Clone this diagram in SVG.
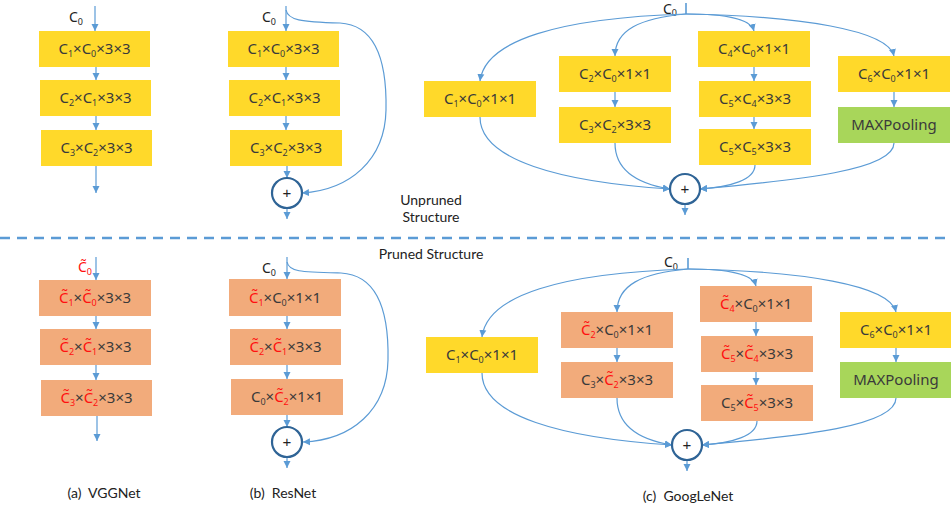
<svg xmlns="http://www.w3.org/2000/svg" width="951" height="508" viewBox="0 0 951 508">
  <style>
    .y { fill: #FFD92A; }
    .o { fill: #F2AB7B; }
    .g { fill: #A8D65A; }
    .t { font-family: "Noto Sans", "Noto Sans CJK SC", sans-serif; font-size: 15px; fill: #3a3a3a; text-anchor: middle; }
    .lbl { font-family: "Noto Sans", "Noto Sans CJK SC", sans-serif; font-size: 14px; fill: #222; }
    .cap { font-family: Lato, "Liberation Sans", sans-serif; font-size: 14px; fill: #222; text-anchor: middle; }
    .r { fill: #FF1010; }
    .ln { fill: none; stroke: #5B9BD5; stroke-width: 1.2; }
    .sum { fill: #fff; stroke: #2F6496; stroke-width: 2.2; }
    .plus { font-family: "Liberation Sans", sans-serif; font-size: 15px; fill: #222; text-anchor: middle; }
  </style>
  <defs>
    <marker id="ah" markerUnits="userSpaceOnUse" markerWidth="8" markerHeight="8" refX="7" refY="4" orient="auto">
      <path d="M0,0.5 L7,4 L0,7.5 Z" fill="#5B9BD5"/>
    </marker>
  </defs>

  <!-- section divider -->
  <line x1="0" y1="238" x2="951" y2="238" stroke="#5B9BD5" stroke-width="2.5" stroke-dasharray="10,7"/>
  <text class="cap" x="431" y="205">Unpruned</text>
  <text class="cap" x="431" y="222">Structure</text>
  <text class="cap" x="431" y="259">Pruned Structure</text>

  <!-- captions -->
  <text class="cap" x="104" y="498" xml:space="preserve">(a)  VGGNet</text>
  <text class="cap" x="283" y="498" xml:space="preserve">(b)  ResNet</text>
  <text class="cap" x="688" y="501" xml:space="preserve">(c)  GoogLeNet</text>

  <!-- input labels -->
  <text class="lbl" x="69" y="22">C<tspan font-size="9" dy="3">0</tspan></text>
  <text class="lbl" x="262" y="22">C<tspan font-size="9" dy="3">0</tspan></text>
  <text class="lbl" x="663" y="14" font-size="13">C<tspan font-size="9" dy="2">0</tspan></text>
  <text class="lbl r" x="78" y="272">C&#x303;<tspan font-size="9" dy="3">0</tspan></text>
  <text class="lbl" x="262" y="273">C<tspan font-size="9" dy="3">0</tspan></text>
  <text class="lbl" x="664" y="267">C<tspan font-size="9" dy="3">0</tspan></text>

  <!-- connectors -->
  <g id="connectors">
    <!-- VGG top -->
    <line class="ln" x1="95" y1="6" x2="95" y2="31" marker-end="url(#ah)"/>
    <line class="ln" x1="96" y1="66" x2="96" y2="80" marker-end="url(#ah)"/>
    <line class="ln" x1="96" y1="116" x2="96" y2="130" marker-end="url(#ah)"/>
    <line class="ln" x1="96" y1="166" x2="96" y2="193" marker-end="url(#ah)"/>
    <!-- ResNet top -->
    <line class="ln" x1="286" y1="6" x2="286" y2="31" marker-end="url(#ah)"/>
    <line class="ln" x1="286" y1="67" x2="286" y2="80" marker-end="url(#ah)"/>
    <line class="ln" x1="286" y1="116" x2="286" y2="130" marker-end="url(#ah)"/>
    <line class="ln" x1="287" y1="166" x2="287" y2="178" marker-end="url(#ah)"/>
    <line class="ln" x1="287" y1="208" x2="287" y2="219" marker-end="url(#ah)"/>
    <path class="ln" d="M286,10 C288,20 300,22 340,23 C375,25 387,60 386,110 C385,160 350,190 302,193" marker-end="url(#ah)"/>
    <!-- GoogLeNet top -->
    <line x1="686" y1="3" x2="686" y2="14" stroke="#5B9BD5" stroke-width="1.6"/>
    <path class="ln" d="M686,14 C560,18 485,40 480,81" marker-end="url(#ah)"/>
    <path class="ln" d="M686,14 C640,18 615,30 615,56" marker-end="url(#ah)"/>
    <path class="ln" d="M686,14 C720,14 750,17 754,31" marker-end="url(#ah)"/>
    <path class="ln" d="M686,14 C800,16 888,30 894,56" marker-end="url(#ah)"/>
    <line class="ln" x1="615" y1="92" x2="615" y2="107" marker-end="url(#ah)"/>
    <line class="ln" x1="754" y1="67" x2="754" y2="81" marker-end="url(#ah)"/>
    <line class="ln" x1="754" y1="117" x2="754" y2="129" marker-end="url(#ah)"/>
    <line class="ln" x1="894" y1="92" x2="894" y2="107" marker-end="url(#ah)"/>
    <path class="ln" d="M480,117 C480,160 560,182 670,189" marker-end="url(#ah)"/>
    <path class="ln" d="M615,143 C615,175 645,185 670,189" marker-end="url(#ah)"/>
    <path class="ln" d="M755,165 C755,180 730,187 700,189" marker-end="url(#ah)"/>
    <path class="ln" d="M894,143 C894,170 800,180 700,189" marker-end="url(#ah)"/>
    <line class="ln" x1="685" y1="204" x2="685" y2="215" marker-end="url(#ah)"/>

    <!-- VGG bottom -->
    <line class="ln" x1="96" y1="257" x2="96" y2="280" marker-end="url(#ah)"/>
    <line class="ln" x1="96" y1="316" x2="96" y2="329" marker-end="url(#ah)"/>
    <line class="ln" x1="96" y1="365" x2="96" y2="380" marker-end="url(#ah)"/>
    <line class="ln" x1="97" y1="416" x2="97" y2="441" marker-end="url(#ah)"/>
    <!-- ResNet bottom -->
    <line class="ln" x1="287" y1="257" x2="287" y2="279" marker-end="url(#ah)"/>
    <line class="ln" x1="287" y1="316" x2="287" y2="329" marker-end="url(#ah)"/>
    <line class="ln" x1="287" y1="365" x2="287" y2="379" marker-end="url(#ah)"/>
    <line class="ln" x1="287" y1="415" x2="287" y2="427" marker-end="url(#ah)"/>
    <line class="ln" x1="287" y1="457" x2="287" y2="468" marker-end="url(#ah)"/>
    <path class="ln" d="M287,262 C289,272 301,272 341,273 C377,275 389,310 388,360 C387,410 352,440 303,442" marker-end="url(#ah)"/>
    <!-- GoogLeNet bottom -->
    <line x1="688" y1="258" x2="688" y2="269" stroke="#5B9BD5" stroke-width="1.6"/>
    <path class="ln" d="M688,269 C562,273 487,295 482,337" marker-end="url(#ah)"/>
    <path class="ln" d="M688,269 C642,273 617,285 617,312" marker-end="url(#ah)"/>
    <path class="ln" d="M688,269 C722,269 752,272 756,286" marker-end="url(#ah)"/>
    <path class="ln" d="M688,269 C802,271 890,285 896,312" marker-end="url(#ah)"/>
    <line class="ln" x1="617" y1="348" x2="617" y2="362" marker-end="url(#ah)"/>
    <line class="ln" x1="756" y1="322" x2="756" y2="336" marker-end="url(#ah)"/>
    <line class="ln" x1="756" y1="372" x2="756" y2="385" marker-end="url(#ah)"/>
    <line class="ln" x1="896" y1="348" x2="896" y2="362" marker-end="url(#ah)"/>
    <path class="ln" d="M482,373 C482,416 562,438 672,445" marker-end="url(#ah)"/>
    <path class="ln" d="M617,398 C617,431 647,441 672,445" marker-end="url(#ah)"/>
    <path class="ln" d="M757,421 C757,436 732,443 702,445" marker-end="url(#ah)"/>
    <path class="ln" d="M896,398 C896,426 802,436 702,445" marker-end="url(#ah)"/>
    <line class="ln" x1="687" y1="460" x2="687" y2="471" marker-end="url(#ah)"/>
  </g>

  <!-- VGGNet, unpruned -->
  <g id="vgg-u1"><rect class="y" x="39" y="31" width="111" height="36"/><text class="t" x="94.5" y="54">C<tspan font-size="9" dy="3">1</tspan><tspan dy="-3">×C</tspan><tspan font-size="9" dy="3">0</tspan><tspan dy="-3">×3×3</tspan></text></g>
  <g id="vgg-u2"><rect class="y" x="40" y="80" width="111" height="36"/><text class="t" x="95.5" y="103">C<tspan font-size="9" dy="3">2</tspan><tspan dy="-3">×C</tspan><tspan font-size="9" dy="3">1</tspan><tspan dy="-3">×3×3</tspan></text></g>
  <g id="vgg-u3"><rect class="y" x="41" y="130" width="111" height="36"/><text class="t" x="96.5" y="153">C<tspan font-size="9" dy="3">3</tspan><tspan dy="-3">×C</tspan><tspan font-size="9" dy="3">2</tspan><tspan dy="-3">×3×3</tspan></text></g>

  <!-- ResNet, unpruned -->
  <g id="res-u1"><rect class="y" x="228" y="31" width="111" height="36"/><text class="t" x="283.5" y="54">C<tspan font-size="9" dy="3">1</tspan><tspan dy="-3">×C</tspan><tspan font-size="9" dy="3">0</tspan><tspan dy="-3">×3×3</tspan></text></g>
  <g id="res-u2"><rect class="y" x="229" y="80" width="111" height="36"/><text class="t" x="284.5" y="103">C<tspan font-size="9" dy="3">2</tspan><tspan dy="-3">×C</tspan><tspan font-size="9" dy="3">1</tspan><tspan dy="-3">×3×3</tspan></text></g>
  <g id="res-u3"><rect class="y" x="230" y="130" width="112" height="36"/><text class="t" x="286" y="153">C<tspan font-size="9" dy="3">3</tspan><tspan dy="-3">×C</tspan><tspan font-size="9" dy="3">2</tspan><tspan dy="-3">×3×3</tspan></text></g>
  <g id="res-u-sum"><circle class="sum" cx="287" cy="193" r="15"/><text class="plus" x="287" y="198">+</text></g>

  <!-- GoogLeNet, unpruned -->
  <g id="inc-u1"><rect class="y" x="424" y="81" width="112" height="36"/><text class="t" x="480" y="104">C<tspan font-size="9" dy="3">1</tspan><tspan dy="-3">×C</tspan><tspan font-size="9" dy="3">0</tspan><tspan dy="-3">×1×1</tspan></text></g>
  <g id="inc-u2a"><rect class="y" x="559" y="56" width="112" height="36"/><text class="t" x="615" y="79">C<tspan font-size="9" dy="3">2</tspan><tspan dy="-3">×C</tspan><tspan font-size="9" dy="3">0</tspan><tspan dy="-3">×1×1</tspan></text></g>
  <g id="inc-u2b"><rect class="y" x="559" y="107" width="112" height="36"/><text class="t" x="615" y="130">C<tspan font-size="9" dy="3">3</tspan><tspan dy="-3">×C</tspan><tspan font-size="9" dy="3">2</tspan><tspan dy="-3">×3×3</tspan></text></g>
  <g id="inc-u3a"><rect class="y" x="698" y="31" width="112" height="36"/><text class="t" x="754" y="54">C<tspan font-size="9" dy="3">4</tspan><tspan dy="-3">×C</tspan><tspan font-size="9" dy="3">0</tspan><tspan dy="-3">×1×1</tspan></text></g>
  <g id="inc-u3b"><rect class="y" x="699" y="81" width="112" height="36"/><text class="t" x="755" y="104">C<tspan font-size="9" dy="3">5</tspan><tspan dy="-3">×C</tspan><tspan font-size="9" dy="3">4</tspan><tspan dy="-3">×3×3</tspan></text></g>
  <g id="inc-u3c"><rect class="y" x="699" y="129" width="112" height="36"/><text class="t" x="755" y="152">C<tspan font-size="9" dy="3">5</tspan><tspan dy="-3">×C</tspan><tspan font-size="9" dy="3">5</tspan><tspan dy="-3">×3×3</tspan></text></g>
  <g id="inc-u4a"><rect class="y" x="838" y="56" width="112" height="36"/><text class="t" x="894" y="79">C<tspan font-size="9" dy="3">6</tspan><tspan dy="-3">×C</tspan><tspan font-size="9" dy="3">0</tspan><tspan dy="-3">×1×1</tspan></text></g>
  <g id="inc-u4b"><rect class="g" x="838" y="107" width="112" height="36"/><text class="t" x="894" y="130">MAXPooling</text></g>
  <g id="inc-u-sum"><circle class="sum" cx="685" cy="189" r="15"/><text class="plus" x="685" y="194">+</text></g>

  <!-- VGGNet, pruned -->
  <g id="vgg-p1"><rect class="o" x="39" y="280" width="112" height="36"/><text class="t" x="95" y="303"><tspan class="r">C&#x303;</tspan><tspan class="r" font-size="9" dy="3">1</tspan><tspan dy="-3">×</tspan><tspan class="r">C&#x303;</tspan><tspan class="r" font-size="9" dy="3">0</tspan><tspan dy="-3">×3×3</tspan></text></g>
  <g id="vgg-p2"><rect class="o" x="40" y="329" width="111" height="36"/><text class="t" x="95.5" y="352"><tspan class="r">C&#x303;</tspan><tspan class="r" font-size="9" dy="3">2</tspan><tspan dy="-3">×</tspan><tspan class="r">C&#x303;</tspan><tspan class="r" font-size="9" dy="3">1</tspan><tspan dy="-3">×3×3</tspan></text></g>
  <g id="vgg-p3"><rect class="o" x="41" y="380" width="111" height="36"/><text class="t" x="96.5" y="403"><tspan class="r">C&#x303;</tspan><tspan class="r" font-size="9" dy="3">3</tspan><tspan dy="-3">×</tspan><tspan class="r">C&#x303;</tspan><tspan class="r" font-size="9" dy="3">2</tspan><tspan dy="-3">×3×3</tspan></text></g>

  <!-- ResNet, pruned -->
  <g id="res-p1"><rect class="o" x="229" y="279" width="112" height="37"/><text class="t" x="285" y="303"><tspan class="r">C&#x303;</tspan><tspan class="r" font-size="9" dy="3">1</tspan><tspan dy="-3">×C</tspan><tspan font-size="9" dy="3">0</tspan><tspan dy="-3">×1×1</tspan></text></g>
  <g id="res-p2"><rect class="o" x="230" y="329" width="111" height="36"/><text class="t" x="285.5" y="352"><tspan class="r">C&#x303;</tspan><tspan class="r" font-size="9" dy="3">2</tspan><tspan dy="-3">×</tspan><tspan class="r">C&#x303;</tspan><tspan class="r" font-size="9" dy="3">1</tspan><tspan dy="-3">×3×3</tspan></text></g>
  <g id="res-p3"><rect class="o" x="231" y="379" width="112" height="36"/><text class="t" x="287" y="402">C<tspan font-size="9" dy="3">0</tspan><tspan dy="-3">×</tspan><tspan class="r">C&#x303;</tspan><tspan class="r" font-size="9" dy="3">2</tspan><tspan dy="-3">×1×1</tspan></text></g>
  <g id="res-p-sum"><circle class="sum" cx="287" cy="442" r="15"/><text class="plus" x="287" y="447">+</text></g>

  <!-- GoogLeNet, pruned -->
  <g id="inc-p1"><rect class="y" x="426" y="337" width="112" height="36"/><text class="t" x="482" y="360">C<tspan font-size="9" dy="3">1</tspan><tspan dy="-3">×C</tspan><tspan font-size="9" dy="3">0</tspan><tspan dy="-3">×1×1</tspan></text></g>
  <g id="inc-p2a"><rect class="o" x="561" y="312" width="112" height="36"/><text class="t" x="617" y="335"><tspan class="r">C&#x303;</tspan><tspan class="r" font-size="9" dy="3">2</tspan><tspan dy="-3">×C</tspan><tspan font-size="9" dy="3">0</tspan><tspan dy="-3">×1×1</tspan></text></g>
  <g id="inc-p2b"><rect class="o" x="561" y="362" width="112" height="36"/><text class="t" x="617" y="385">C<tspan font-size="9" dy="3">3</tspan><tspan dy="-3">×</tspan><tspan class="r">C&#x303;</tspan><tspan class="r" font-size="9" dy="3">2</tspan><tspan dy="-3">×3×3</tspan></text></g>
  <g id="inc-p3a"><rect class="o" x="700" y="286" width="112" height="36"/><text class="t" x="756" y="309"><tspan class="r">C&#x303;</tspan><tspan class="r" font-size="9" dy="3">4</tspan><tspan dy="-3">×C</tspan><tspan font-size="9" dy="3">0</tspan><tspan dy="-3">×1×1</tspan></text></g>
  <g id="inc-p3b"><rect class="o" x="701" y="336" width="112" height="36"/><text class="t" x="757" y="359"><tspan class="r">C&#x303;</tspan><tspan class="r" font-size="9" dy="3">5</tspan><tspan dy="-3">×</tspan><tspan class="r">C&#x303;</tspan><tspan class="r" font-size="9" dy="3">4</tspan><tspan dy="-3">×3×3</tspan></text></g>
  <g id="inc-p3c"><rect class="o" x="701" y="385" width="112" height="36"/><text class="t" x="757" y="408">C<tspan font-size="9" dy="3">5</tspan><tspan dy="-3">×</tspan><tspan class="r">C&#x303;</tspan><tspan class="r" font-size="9" dy="3">5</tspan><tspan dy="-3">×3×3</tspan></text></g>
  <g id="inc-p4a"><rect class="y" x="840" y="312" width="111" height="36"/><text class="t" x="896" y="335">C<tspan font-size="9" dy="3">6</tspan><tspan dy="-3">×C</tspan><tspan font-size="9" dy="3">0</tspan><tspan dy="-3">×1×1</tspan></text></g>
  <g id="inc-p4b"><rect class="g" x="840" y="362" width="111" height="36"/><text class="t" x="896" y="385">MAXPooling</text></g>
  <g id="inc-p-sum"><circle class="sum" cx="687" cy="445" r="15"/><text class="plus" x="687" y="450">+</text></g>
</svg>
